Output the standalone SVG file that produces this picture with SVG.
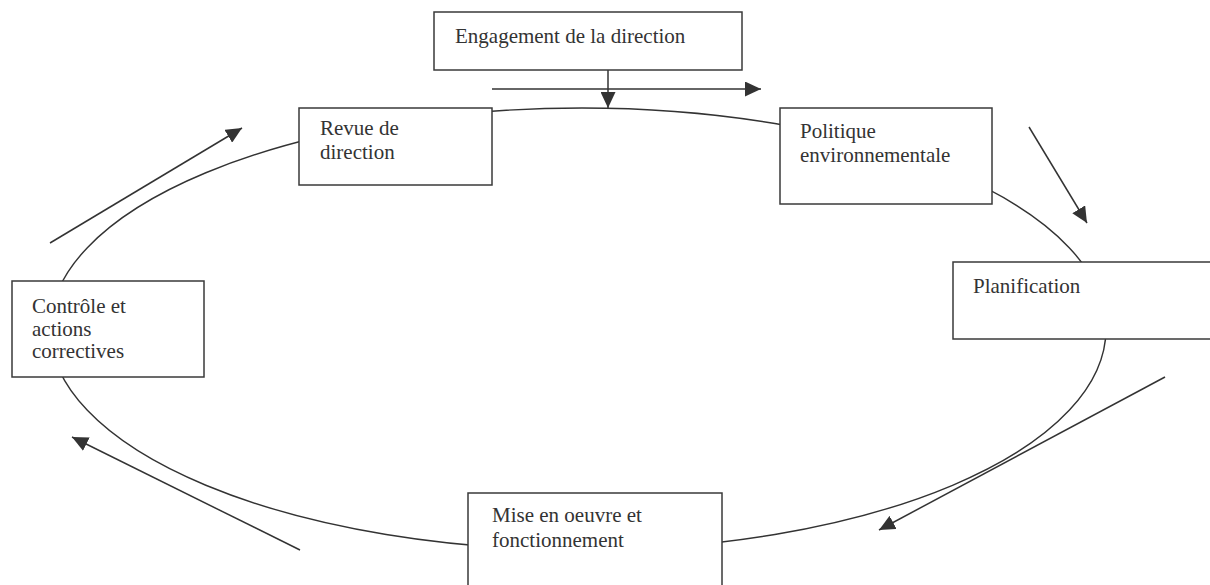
<svg xmlns="http://www.w3.org/2000/svg" width="1210" height="585" viewBox="0 0 1210 585">
<style>
.box{fill:#fff;stroke:#3a3a3a;stroke-width:1.5}
.lbl{font-family:"Liberation Serif","Times New Roman",serif;font-size:21px;fill:#333}
.cyc{fill:none;stroke:#333;stroke-width:1.4}
.arr{fill:none;stroke:#333;stroke-width:1.5;marker-end:url(#ah)}
</style>
<defs>
<marker id="ah" markerUnits="userSpaceOnUse" markerWidth="16" markerHeight="15" refX="16" refY="7.5" orient="auto">
<path d="M0,0 L16,7.5 L0,15 Z" fill="#333"/>
</marker>
</defs>
<rect width="1210" height="585" fill="#fff"/>
<g id="connectors">
<path class="cyc" d="M582 108 A532 221 0 0 0 50 329 A532 221 0 0 0 582 550 A524 221 0 0 0 1106 329 A524 221 0 0 0 582 108 Z"/>
<line class="arr" x1="608" y1="70" x2="608" y2="108"/>
<line class="arr" x1="492" y1="89" x2="761" y2="89"/>
<line class="arr" x1="1029" y1="127" x2="1087" y2="223"/>
<line class="arr" x1="1165" y1="377" x2="879" y2="530"/>
<line class="arr" x1="300" y1="550" x2="72" y2="437"/>
<line class="arr" x1="50" y1="243" x2="242" y2="128"/>
</g>
<g id="engagement">
<rect class="box" x="434" y="12" width="308" height="58"/>
<text class="lbl" x="455" y="43">Engagement de la direction</text>
</g>
<g id="revue">
<rect class="box" x="299" y="108" width="193" height="77"/>
<text class="lbl" x="320" y="135">Revue de</text>
<text class="lbl" x="320" y="159">direction</text>
</g>
<g id="politique">
<rect class="box" x="780" y="108" width="212" height="96"/>
<text class="lbl" x="800" y="138">Politique</text>
<text class="lbl" x="800" y="162">environnementale</text>
</g>
<g id="planification">
<rect class="box" x="953" y="262" width="270" height="77"/>
<text class="lbl" x="973" y="293">Planification</text>
</g>
<g id="mise">
<rect class="box" x="468" y="493" width="254" height="100"/>
<text class="lbl" x="492" y="522">Mise en oeuvre et</text>
<text class="lbl" x="492" y="547">fonctionnement</text>
</g>
<g id="controle">
<rect class="box" x="12" y="281" width="192" height="96"/>
<text class="lbl" x="32" y="313">Contrôle et</text>
<text class="lbl" x="32" y="336">actions</text>
<text class="lbl" x="32" y="358">correctives</text>
</g>
</svg>
